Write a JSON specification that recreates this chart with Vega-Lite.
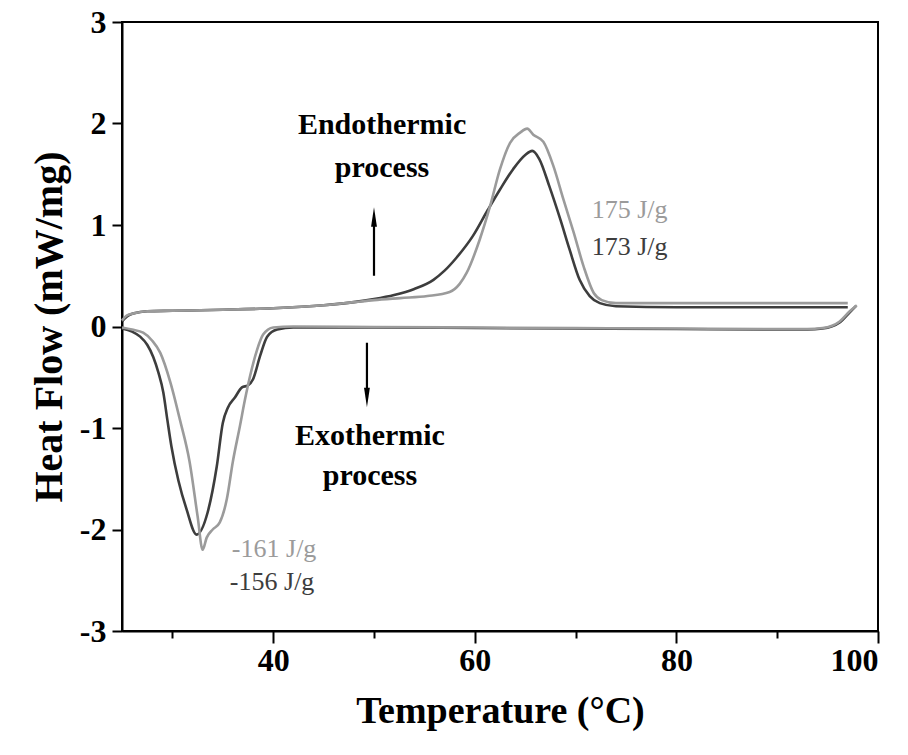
{
  "$schema": "https://vega.github.io/schema/vega-lite/v6.json",
  "autosize": {"type": "none"},
  "width": 756,
  "height": 609,
  "padding": {"left": 122, "top": 22, "right": 30, "bottom": 124},
  "background": "white",
  "config": {
    "view": {"stroke": "black", "strokeWidth": 2},
    "axis": {
      "grid": false,
      "domainColor": "black",
      "domainWidth": 2,
      "tickColor": "black",
      "tickWidth": 2,
      "labelFont": "Liberation Serif",
      "labelFontWeight": "bold",
      "labelColor": "black",
      "titleFont": "Liberation Serif",
      "titleFontWeight": "bold",
      "titleColor": "black"
    }
  },
  "datasets": {
    "curves": [
      {"x": 25.0, "y": 0.05, "sample": "dark", "run": "heat"},
      {"x": 25.5, "y": 0.10, "sample": "dark", "run": "heat"},
      {"x": 26.2, "y": 0.13, "sample": "dark", "run": "heat"},
      {"x": 27.5, "y": 0.15, "sample": "dark", "run": "heat"},
      {"x": 30, "y": 0.155, "sample": "dark", "run": "heat"},
      {"x": 35, "y": 0.165, "sample": "dark", "run": "heat"},
      {"x": 40, "y": 0.18, "sample": "dark", "run": "heat"},
      {"x": 45, "y": 0.21, "sample": "dark", "run": "heat"},
      {"x": 48, "y": 0.24, "sample": "dark", "run": "heat"},
      {"x": 50, "y": 0.27, "sample": "dark", "run": "heat"},
      {"x": 52, "y": 0.31, "sample": "dark", "run": "heat"},
      {"x": 54, "y": 0.37, "sample": "dark", "run": "heat"},
      {"x": 55.9, "y": 0.46, "sample": "dark", "run": "heat"},
      {"x": 57, "y": 0.55, "sample": "dark", "run": "heat"},
      {"x": 58.2, "y": 0.68, "sample": "dark", "run": "heat"},
      {"x": 59.8, "y": 0.89, "sample": "dark", "run": "heat"},
      {"x": 61.3, "y": 1.15, "sample": "dark", "run": "heat"},
      {"x": 62.5, "y": 1.35, "sample": "dark", "run": "heat"},
      {"x": 63.8, "y": 1.55, "sample": "dark", "run": "heat"},
      {"x": 65.0, "y": 1.69, "sample": "dark", "run": "heat"},
      {"x": 65.7, "y": 1.73, "sample": "dark", "run": "heat"},
      {"x": 66.4, "y": 1.65, "sample": "dark", "run": "heat"},
      {"x": 67.4, "y": 1.38, "sample": "dark", "run": "heat"},
      {"x": 68.5, "y": 1.05, "sample": "dark", "run": "heat"},
      {"x": 69.4, "y": 0.76, "sample": "dark", "run": "heat"},
      {"x": 70.4, "y": 0.46, "sample": "dark", "run": "heat"},
      {"x": 71.4, "y": 0.30, "sample": "dark", "run": "heat"},
      {"x": 72.4, "y": 0.23, "sample": "dark", "run": "heat"},
      {"x": 74, "y": 0.20, "sample": "dark", "run": "heat"},
      {"x": 80, "y": 0.19, "sample": "dark", "run": "heat"},
      {"x": 90, "y": 0.19, "sample": "dark", "run": "heat"},
      {"x": 97, "y": 0.19, "sample": "dark", "run": "heat"},

      {"x": 25.0, "y": 0.06, "sample": "light", "run": "heat"},
      {"x": 25.5, "y": 0.11, "sample": "light", "run": "heat"},
      {"x": 26.2, "y": 0.13, "sample": "light", "run": "heat"},
      {"x": 27.5, "y": 0.15, "sample": "light", "run": "heat"},
      {"x": 30, "y": 0.155, "sample": "light", "run": "heat"},
      {"x": 35, "y": 0.165, "sample": "light", "run": "heat"},
      {"x": 40, "y": 0.18, "sample": "light", "run": "heat"},
      {"x": 45, "y": 0.21, "sample": "light", "run": "heat"},
      {"x": 48, "y": 0.24, "sample": "light", "run": "heat"},
      {"x": 50, "y": 0.26, "sample": "light", "run": "heat"},
      {"x": 52.6, "y": 0.28, "sample": "light", "run": "heat"},
      {"x": 55.3, "y": 0.30, "sample": "light", "run": "heat"},
      {"x": 57.5, "y": 0.34, "sample": "light", "run": "heat"},
      {"x": 58.5, "y": 0.42, "sample": "light", "run": "heat"},
      {"x": 59.2, "y": 0.53, "sample": "light", "run": "heat"},
      {"x": 60.5, "y": 0.86, "sample": "light", "run": "heat"},
      {"x": 61.5, "y": 1.18, "sample": "light", "run": "heat"},
      {"x": 62.5, "y": 1.55, "sample": "light", "run": "heat"},
      {"x": 63.5, "y": 1.81, "sample": "light", "run": "heat"},
      {"x": 64.5, "y": 1.91, "sample": "light", "run": "heat"},
      {"x": 65.2, "y": 1.95, "sample": "light", "run": "heat"},
      {"x": 65.8, "y": 1.89, "sample": "light", "run": "heat"},
      {"x": 66.8, "y": 1.82, "sample": "light", "run": "heat"},
      {"x": 67.8, "y": 1.58, "sample": "light", "run": "heat"},
      {"x": 68.8, "y": 1.25, "sample": "light", "run": "heat"},
      {"x": 69.8, "y": 0.93, "sample": "light", "run": "heat"},
      {"x": 70.8, "y": 0.59, "sample": "light", "run": "heat"},
      {"x": 71.8, "y": 0.33, "sample": "light", "run": "heat"},
      {"x": 72.6, "y": 0.26, "sample": "light", "run": "heat"},
      {"x": 74, "y": 0.23, "sample": "light", "run": "heat"},
      {"x": 80, "y": 0.23, "sample": "light", "run": "heat"},
      {"x": 90, "y": 0.23, "sample": "light", "run": "heat"},
      {"x": 97, "y": 0.23, "sample": "light", "run": "heat"},

      {"x": 25.0, "y": -0.02, "sample": "dark", "run": "cool"},
      {"x": 26.0, "y": -0.05, "sample": "dark", "run": "cool"},
      {"x": 26.8, "y": -0.10, "sample": "dark", "run": "cool"},
      {"x": 27.5, "y": -0.18, "sample": "dark", "run": "cool"},
      {"x": 28.1, "y": -0.30, "sample": "dark", "run": "cool"},
      {"x": 28.6, "y": -0.45, "sample": "dark", "run": "cool"},
      {"x": 29.1, "y": -0.65, "sample": "dark", "run": "cool"},
      {"x": 29.5, "y": -0.92, "sample": "dark", "run": "cool"},
      {"x": 29.9, "y": -1.18, "sample": "dark", "run": "cool"},
      {"x": 30.6, "y": -1.52, "sample": "dark", "run": "cool"},
      {"x": 31.4, "y": -1.80, "sample": "dark", "run": "cool"},
      {"x": 32.4, "y": -2.05, "sample": "dark", "run": "cool"},
      {"x": 33.5, "y": -1.83, "sample": "dark", "run": "cool"},
      {"x": 34.4, "y": -1.38, "sample": "dark", "run": "cool"},
      {"x": 35.0, "y": -0.95, "sample": "dark", "run": "cool"},
      {"x": 35.5, "y": -0.80, "sample": "dark", "run": "cool"},
      {"x": 36.2, "y": -0.70, "sample": "dark", "run": "cool"},
      {"x": 36.9, "y": -0.60, "sample": "dark", "run": "cool"},
      {"x": 37.5, "y": -0.58, "sample": "dark", "run": "cool"},
      {"x": 38.0, "y": -0.52, "sample": "dark", "run": "cool"},
      {"x": 38.7, "y": -0.29, "sample": "dark", "run": "cool"},
      {"x": 39.4, "y": -0.10, "sample": "dark", "run": "cool"},
      {"x": 40.4, "y": -0.03, "sample": "dark", "run": "cool"},
      {"x": 42, "y": -0.01, "sample": "dark", "run": "cool"},
      {"x": 50, "y": -0.01, "sample": "dark", "run": "cool"},
      {"x": 60, "y": -0.015, "sample": "dark", "run": "cool"},
      {"x": 70, "y": -0.02, "sample": "dark", "run": "cool"},
      {"x": 80, "y": -0.025, "sample": "dark", "run": "cool"},
      {"x": 90, "y": -0.03, "sample": "dark", "run": "cool"},
      {"x": 93, "y": -0.03, "sample": "dark", "run": "cool"},
      {"x": 94.5, "y": -0.02, "sample": "dark", "run": "cool"},
      {"x": 96.2, "y": 0.04, "sample": "dark", "run": "cool"},
      {"x": 97.2, "y": 0.14, "sample": "dark", "run": "cool"},
      {"x": 97.8, "y": 0.20, "sample": "dark", "run": "cool"},

      {"x": 25.0, "y": -0.01, "sample": "light", "run": "cool"},
      {"x": 26.0, "y": -0.03, "sample": "light", "run": "cool"},
      {"x": 27.1, "y": -0.06, "sample": "light", "run": "cool"},
      {"x": 28.0, "y": -0.14, "sample": "light", "run": "cool"},
      {"x": 28.8, "y": -0.26, "sample": "light", "run": "cool"},
      {"x": 29.8, "y": -0.55, "sample": "light", "run": "cool"},
      {"x": 30.75, "y": -0.92, "sample": "light", "run": "cool"},
      {"x": 31.7, "y": -1.33, "sample": "light", "run": "cool"},
      {"x": 32.5, "y": -1.87, "sample": "light", "run": "cool"},
      {"x": 33.0, "y": -2.20, "sample": "light", "run": "cool"},
      {"x": 33.4, "y": -2.08, "sample": "light", "run": "cool"},
      {"x": 34.0, "y": -2.00, "sample": "light", "run": "cool"},
      {"x": 34.7, "y": -1.93, "sample": "light", "run": "cool"},
      {"x": 35.4, "y": -1.70, "sample": "light", "run": "cool"},
      {"x": 36.0, "y": -1.33, "sample": "light", "run": "cool"},
      {"x": 36.7, "y": -0.98, "sample": "light", "run": "cool"},
      {"x": 37.2, "y": -0.72, "sample": "light", "run": "cool"},
      {"x": 37.7, "y": -0.49, "sample": "light", "run": "cool"},
      {"x": 38.4, "y": -0.23, "sample": "light", "run": "cool"},
      {"x": 39.0, "y": -0.08, "sample": "light", "run": "cool"},
      {"x": 40.0, "y": -0.01, "sample": "light", "run": "cool"},
      {"x": 42, "y": 0.0, "sample": "light", "run": "cool"},
      {"x": 50, "y": -0.005, "sample": "light", "run": "cool"},
      {"x": 60, "y": -0.01, "sample": "light", "run": "cool"},
      {"x": 70, "y": -0.015, "sample": "light", "run": "cool"},
      {"x": 80, "y": -0.02, "sample": "light", "run": "cool"},
      {"x": 90, "y": -0.025, "sample": "light", "run": "cool"},
      {"x": 93, "y": -0.025, "sample": "light", "run": "cool"},
      {"x": 94.5, "y": -0.015, "sample": "light", "run": "cool"},
      {"x": 96.2, "y": 0.05, "sample": "light", "run": "cool"},
      {"x": 97.2, "y": 0.15, "sample": "light", "run": "cool"},
      {"x": 97.9, "y": 0.21, "sample": "light", "run": "cool"}
    ],
    "notes": [
      {"x": 50.8, "y": 1.99, "text": "Endothermic"},
      {"x": 50.8, "y": 1.56, "text": "process"},
      {"x": 49.6, "y": -1.08, "text": "Exothermic"},
      {"x": 49.6, "y": -1.47, "text": "process"}
    ],
    "values": [
      {"x": 71.6, "y": 1.15, "text": "175 J/g", "sample": "light"},
      {"x": 71.6, "y": 0.78, "text": "173 J/g", "sample": "dark"},
      {"x": 35.9, "y": -2.19, "text": "-161 J/g", "sample": "light"},
      {"x": 35.7, "y": -2.52, "text": "-156 J/g", "sample": "dark"}
    ],
    "arrows": [
      {"x": 50.0, "y": 0.50, "y2": 1.02, "tip": 1.08, "dir": "up"},
      {"x": 49.3, "y": -0.16, "y2": -0.64, "tip": -0.70, "dir": "down"}
    ]
  },
  "layer": [
    {
      "data": {"name": "curves"},
      "mark": {"type": "line", "strokeWidth": 2.6, "interpolate": "monotone"},
      "encoding": {
        "x": {
          "field": "x", "type": "quantitative",
          "scale": {"domain": [25, 100], "nice": false, "zero": false},
          "axis": {
            "title": "Temperature (°C)",
            "values": [30, 40, 50, 60, 70, 80, 90, 100],
            "labelExpr": "datum.value % 20 == 0 ? datum.label : ''",
            "tickSize": {"condition": {"test": "datum.value % 20 == 0", "value": 12}, "value": 7},
            "labelFontSize": 32,
            "labelPadding": 2,
            "titleFontSize": 38,
            "titlePadding": 16
          }
        },
        "y": {
          "field": "y", "type": "quantitative",
          "scale": {"domain": [-3, 3], "nice": false},
          "axis": {
            "title": "Heat Flow (mW/mg)",
            "values": [-3, -2, -1, 0, 1, 2, 3],
            "labelExpr": "'' + datum.value",
            "tickSize": 10,
            "labelFontSize": 32,
            "labelPadding": 6,
            "titleFontSize": 40,
            "titlePadding": 10
          }
        },
        "color": {
          "field": "sample", "type": "nominal",
          "scale": {"domain": ["dark", "light"], "range": ["#3d3d3d", "#9b9b9b"]},
          "legend": null
        },
        "detail": {"field": "run"}
      }
    },
    {
      "data": {"name": "arrows"},
      "mark": {"type": "rule", "strokeWidth": 2.2, "color": "black"},
      "encoding": {
        "x": {"field": "x", "type": "quantitative"},
        "y": {"field": "y", "type": "quantitative"},
        "y2": {"field": "y2"}
      }
    },
    {
      "data": {"name": "arrows"},
      "mark": {"type": "point", "filled": true, "color": "black", "opacity": 1, "size": 380},
      "encoding": {
        "x": {"field": "x", "type": "quantitative"},
        "y": {"field": "tip", "type": "quantitative"},
        "shape": {
          "field": "dir", "type": "nominal",
          "scale": {"domain": ["up", "down"], "range": ["M-0.3,1L0,-1L0.3,1Z", "M-0.3,-1L0,1L0.3,-1Z"]},
          "legend": null
        }
      }
    },
    {
      "data": {"name": "notes"},
      "mark": {"type": "text", "font": "Liberation Serif", "fontWeight": "bold", "fontSize": 30, "color": "black", "align": "center", "baseline": "middle"},
      "encoding": {
        "x": {"field": "x", "type": "quantitative"},
        "y": {"field": "y", "type": "quantitative"},
        "text": {"field": "text"}
      }
    },
    {
      "data": {"name": "values"},
      "mark": {"type": "text", "font": "Liberation Serif", "fontSize": 26, "align": "left", "baseline": "middle"},
      "encoding": {
        "x": {"field": "x", "type": "quantitative"},
        "y": {"field": "y", "type": "quantitative"},
        "text": {"field": "text"},
        "color": {"field": "sample", "type": "nominal", "legend": null}
      }
    }
  ]
}
